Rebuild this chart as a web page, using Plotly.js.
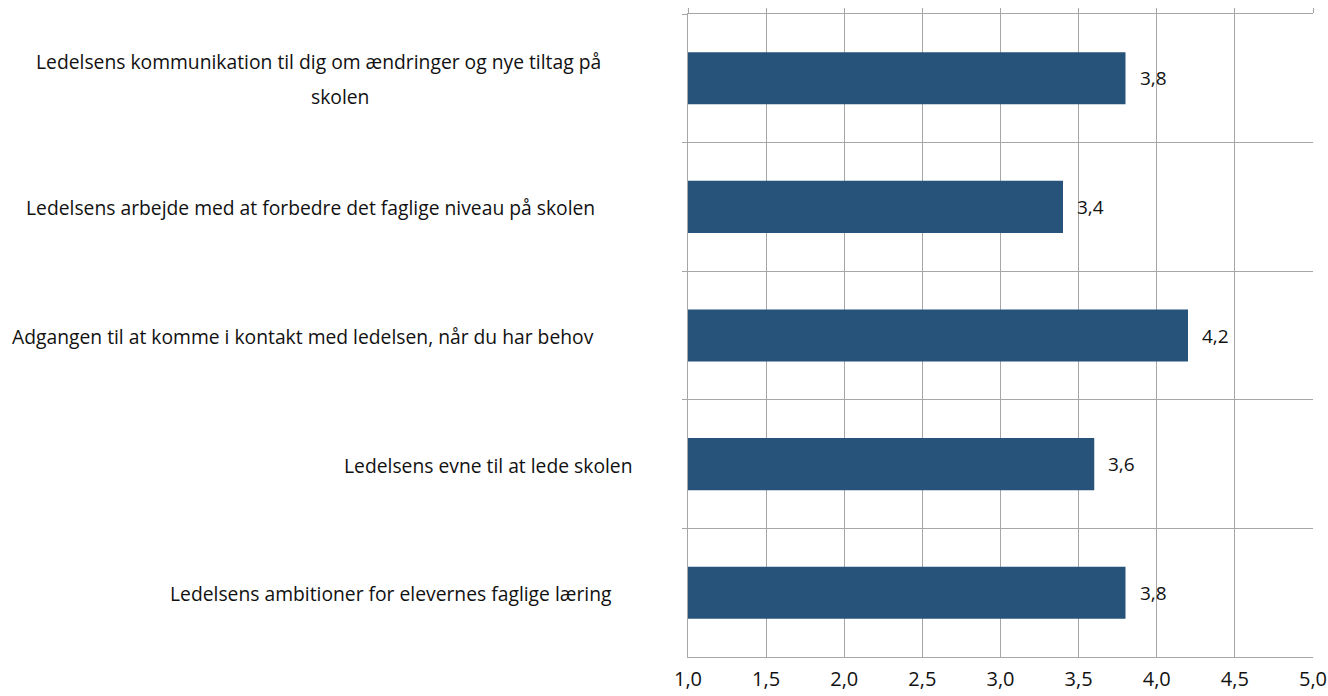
<!DOCTYPE html>
<html>
<head>
<meta charset="utf-8">
<script src="https://cdn.plot.ly/plotly-3.0.1.min.js"></script>
<style>html,body{margin:0;padding:0;background:#fff;}#chart{width:1328px;height:696px;}</style>
</head>
<body>
<div id="chart"></div>
<script>
const categories = [
  "Ledelsens kommunikation til dig om ændringer og nye tiltag på<br>skolen",
  "Ledelsens arbejde med at forbedre det faglige niveau på skolen",
  "Adgangen til at komme i kontakt med ledelsen, når du har behov",
  "Ledelsens evne til at lede skolen",
  "Ledelsens ambitioner for elevernes faglige læring"
];
const values = [3.8, 3.4, 4.2, 3.6, 3.8];
const valueLabels = ["3,8", "3,4", "4,2", "3,6", "3,8"];
const tickValues = [1.0, 1.5, 2.0, 2.5, 3.0, 3.5, 4.0, 4.5, 5.0];
const tickLabels = ["1,0", "1,5", "2,0", "2,5", "3,0", "3,5", "4,0", "4,5", "5,0"];

// layout-only: horizontal centre (page px) of each label line, and line spacing
const labelLineCenters = [[318, 340], [310], [303], [488], [391]];
const lineSpacing = 35;
const plotLeft = 688;

const ids = categories.map((c, i) => "c" + i);

const trace = {
  type: "bar",
  orientation: "h",
  y: ids,
  x: values.map(v => v - 1),
  base: 1,
  marker: {color: "#27537A"},
  hoverinfo: "none",
  width: 0.405
};
const ghost = {type: "scatter", x: [1, 5], y: [ids[0], ids[0]], xaxis: "x2", mode: "none", hoverinfo: "none", showlegend: false};

const font = {family: "'Open Sans', 'Noto Sans', sans-serif", size: 19, color: "#111"};
const labelFont = {family: "'Open Sans', 'Noto Sans', sans-serif", size: 19.3, color: "#111"};
const annotations = [];
categories.forEach((c, i) => {
  const lines = c.split("<br>");
  const n = lines.length;
  lines.forEach((ln, k) => {
    const cx = labelLineCenters[i][k] !== undefined ? labelLineCenters[i][k] : labelLineCenters[i][0];
    annotations.push({
      xref: "paper", yref: "y", x: 0, y: ids[i], xanchor: "center", yanchor: "middle",
      xshift: cx - plotLeft, yshift: ((n - 1) / 2 - k) * lineSpacing - 1,
      text: ln, showarrow: false, font: labelFont
    });
  });
  annotations.push({
    xref: "x", yref: "y", x: values[i], y: ids[i], xanchor: "left", yanchor: "middle",
    xshift: 12, text: valueLabels[i], showarrow: false, font: font
  });
});

const layout = {
  width: 1328, height: 696,
  margin: {l: 688, r: 15, t: 14, b: 39},
  paper_bgcolor: "#fff", plot_bgcolor: "#fff",
  showlegend: false,
  font: font,
  xaxis: {
    range: [1, 5], tickvals: tickValues, ticktext: tickLabels,
    showgrid: true, gridcolor: "#A6A6A6", gridwidth: 1,
    zeroline: false, showline: true, linecolor: "#A6A6A6", mirror: false,
    ticks: "", tickfont: {family: font.family, size: 20, color: "#111"}, ticklabelstandoff: 4, fixedrange: true
  },
  xaxis2: {
    overlaying: "x", side: "top", matches: "x", range: [1, 5], tickvals: tickValues,
    showticklabels: false, ticks: "outside", ticklen: 5, tickcolor: "#A6A6A6",
    showgrid: false, zeroline: false, showline: true, linecolor: "#A6A6A6"
  },
  yaxis: {
    type: "category", autorange: "reversed", tickson: "boundaries",
    showgrid: true, gridcolor: "#A6A6A6", gridwidth: 1,
    ticks: "outside", ticklen: 5, tickcolor: "#A6A6A6",
    showticklabels: false, showline: true, linecolor: "#A6A6A6", zeroline: false
  },
  bargap: 0.595,
  annotations: annotations
};

Plotly.newPlot("chart", [trace, ghost], layout, {displayModeBar: false, staticPlot: true});
</script>
</body>
</html>
